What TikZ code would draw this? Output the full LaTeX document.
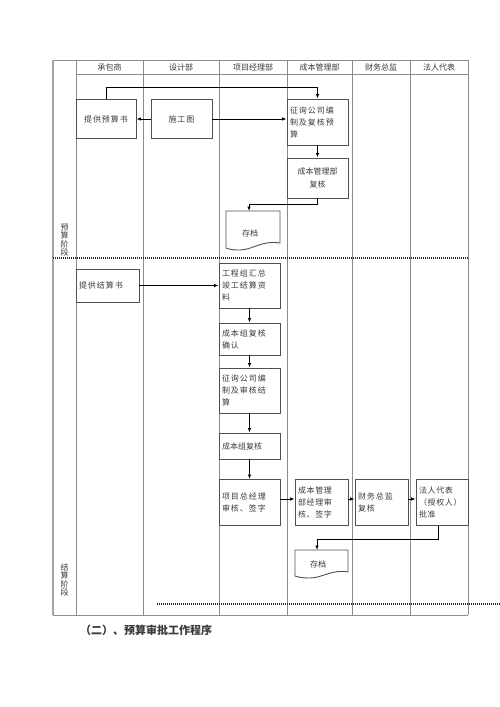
\documentclass[tikz,border=0pt]{standalone}
\usepackage{fontspec}
\setmainfont{Liberation Serif}
\newfontfamily\cjk{Noto Sans CJK SC}
\newfontfamily\cjksp[LetterSpace=12]{Noto Sans CJK SC}
\usetikzlibrary{arrows.meta}
\definecolor{gridc}{HTML}{8C8C8C}
\definecolor{boxc}{HTML}{505050}
\definecolor{txtc}{HTML}{3A3A3A}
\begin{document}
\begin{tikzpicture}[x=1pt,y=-1pt,
  grid/.style={draw=gridc,line width=0.9pt},
  dotl/.style={draw=black!85,line width=1.2pt,dash pattern=on 1pt off 1pt},
  hdr/.style={font=\cjk\fontsize{8}{9}\selectfont,text=txtc,inner sep=0pt},
  box/.style={draw=boxc,line width=0.9pt,inner sep=3pt,text=txtc,
    font=\cjksp\fontsize{8}{12}\selectfont},
  docbox/.style={inner sep=0pt,text=txtc,font=\cjk\fontsize{8}{9}\selectfont},
  stage/.style={inner sep=0pt,text=txtc,align=center,font=\cjk\fontsize{8}{8.3}\selectfont},
  arr/.style={draw=black,line width=0.8pt,-{Latex[length=4.5pt,width=3.5pt]}}
]
\useasboundingbox (0,0) rectangle (500,707);
% ---- grid ----
\draw[grid] (53,60) -- (468,60);
\draw[grid] (76,74) -- (468,74);
\draw[grid] (53,615) -- (468,615);
\draw[draw=gridc!80,line width=1.5pt] (53,60) -- (53,615);
\foreach \x in {76,143,219,287,352,410,468}{\draw[grid] (\x,60) -- (\x,615);}
% headers
\node[hdr] (h1) at (109.5,67) {承包商};
\node[hdr] (h2) at (181,67) {设计部};
\node[hdr] (h3) at (253,67) {项目经理部};
\node[hdr] (h4) at (319.5,67) {成本管理部};
\node[hdr] (h5) at (381,67) {财务总监};
\node[hdr] (h6) at (439,67) {法人代表};
% stage dividers
\draw[dotl] (53,258) -- (468,258);
\draw[dotl] (157,604) -- (500,604);
% stage labels
\node[stage] (s1) at (64.5,240) {预\\算\\阶\\段};
\node[stage] (s2) at (64.5,580) {结\\算\\阶\\段};
% ---- budget stage ----
\node[box,minimum width=60pt,minimum height=39pt] (ysb) at (106,119) {提供预算书};
\node[box,minimum width=61pt,minimum height=39pt] (sgt) at (181.5,119) {施工图};
\node[box,minimum width=61pt,minimum height=46pt,text width=55pt,align=left] (zx1) at (317.5,122) {征询公司编\\制及复核预\\算};
\node[box,minimum width=61pt,minimum height=40pt,align=center,font=\cjk\fontsize{8}{13}\selectfont] (cbf) at (317.5,178) {成本管理部\\复核};
% archive 1
\node[docbox] (cd1) at (250,233) {存档};
\draw[boxc,line width=0.9pt] (226,211) -- (280,211) -- (280,243)
  .. controls (262,240) and (252,250) .. (240,250)
  .. controls (232,250) and (228,249) .. (226,248) -- cycle;
\coordinate (cd1top) at (249,211);
% connectors
\draw[arr] (sgt.west) -- (ysb.east);
\draw[arr] (sgt.east) -- (sgt.east -| zx1.west);
\draw[arr] (ysb.north) -- ++(0,-12) -| (zx1.north);
\draw[arr] (zx1.south) -- (cbf.north);
\draw[arr] (cbf.south) -- ++(0,6) -| (cd1top);
% ---- settlement stage ----
\node[box,minimum width=63pt,minimum height=33pt,text width=57pt,align=left] (jsb) at (107.5,285.5) {提供结算书\\[8pt]};
\node[box,minimum width=61pt,minimum height=45pt,text width=55pt,align=left] (gc) at (249.5,285.5) {工程组汇总\\竣工结算资\\料};
\node[box,minimum width=61pt,minimum height=32pt,text width=55pt,align=left] (cbq) at (249.5,339) {成本组复核\\确认};
\node[box,minimum width=61pt,minimum height=45pt,text width=55pt,align=left] (zx2) at (249.5,390.5) {征询公司编\\制及审核结\\算};
\node[box,minimum width=61pt,minimum height=26pt,text width=55pt,align=left,font=\cjk\fontsize{8}{12}\selectfont] (cbz) at (249.5,446) {成本组复核};
\node[box,minimum width=61pt,minimum height=46pt,text width=55pt,align=left,anchor=north] (xm) at (249.5,479) {项目总经理\\审核、签字\\[10pt]};
\node[box,minimum width=53pt,minimum height=46pt,text width=47pt,align=left,anchor=north,font=\cjk\fontsize{8}{12}\selectfont\addfontfeature{LetterSpace=8}] (cbj) at (321.5,479) {成本管理\\部经理审\\核、签字};
\node[box,minimum width=53pt,minimum height=46pt,text width=47pt,align=left,anchor=north] (cw) at (381.5,479) {财务总监\\复核\\[10pt]};
\node[box,minimum width=52pt,minimum height=46pt,text width=46pt,align=left,anchor=north,font=\cjk\fontsize{8}{12}\selectfont\addfontfeature{LetterSpace=8}] (fr) at (442,479) {法人代表\\（授权人）\\批准};
% archive 2
\node[docbox] (cd2) at (318,564) {存档};
\draw[boxc,line width=0.9pt] (295,550) -- (348,550) -- (348,572)
  .. controls (332,569) and (322,578) .. (310,578)
  .. controls (302,578) and (298,577) .. (295,576) -- cycle;
\coordinate (cd2top) at (317,550);
% connectors
\draw[arr] (jsb.east) -- (gc.west |- jsb.east);
\draw[arr] (gc.south) -- (cbq.north);
\draw[arr] (cbq.south) -- (zx2.north);
\draw[arr] (zx2.south) -- (cbz.north);
\draw[arr] (cbz.south) -- (xm.north);
\draw[arr] (xm.east |- 0,499) -- (cbj.west |- 0,499);
\draw[arr] (cbj.east |- 0,499) -- (cw.west |- 0,499);
\draw[arr] (cw.east |- 0,499) -- (fr.west |- 0,499);
\draw[arr] ([xshift=-4pt]fr.south) -- ++(0,13) -| (cd2top);
% caption
\node[anchor=west,inner sep=0pt,font=\cjk\bfseries\fontsize{11}{13}\selectfont,text=txtc] (cap) at (80,630) {（二）、预算审批工作程序};
\end{tikzpicture}
\end{document}
